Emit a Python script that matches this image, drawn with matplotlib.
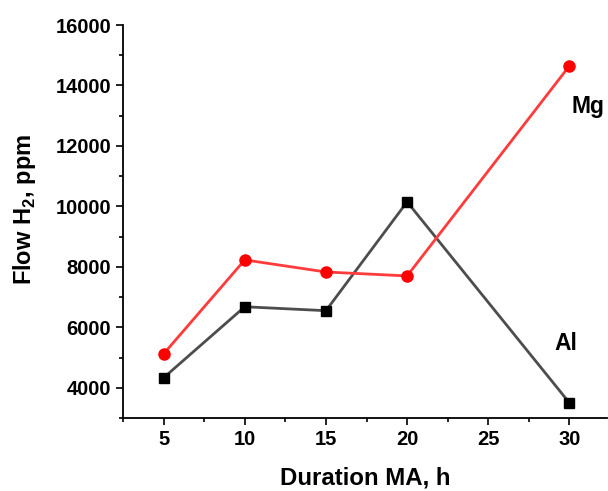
import matplotlib.pyplot as plt
from matplotlib.ticker import MultipleLocator

# Podaci ocitani sa grafika
duration = [5, 10, 15, 20, 30]
flow_mg = [5120, 8230, 7830, 7700, 14650]
flow_al = [4330, 6680, 6550, 10150, 3500]

plt.rcParams['font.family'] = ['Liberation Sans', 'DejaVu Sans']
plt.rcParams['font.weight'] = 'bold'
plt.rcParams['mathtext.fontset'] = 'custom'
plt.rcParams['mathtext.bf'] = 'Liberation Sans:bold'
plt.rcParams['mathtext.rm'] = 'Liberation Sans:bold'

fig = plt.figure(figsize=(6.08, 4.91), dpi=100)
ax = fig.add_axes([0.2023, 0.1487, 0.7957, 0.8003])

ax.plot(duration, flow_al, color='#4d4d4d', lw=2, marker='s', ms=7,
        mfc='black', mec='black')
ax.plot(duration, flow_mg, color='#ff3b3b', lw=2, marker='o', ms=8,
        mfc='red', mec='red')

ax.text(30.15, 13080, 'Mg', fontsize=16.5, fontweight='bold')
ax.text(29.05, 5250, 'Al', fontsize=16.5, fontweight='bold')

ax.set_xlim(2.5, 32.3)
ax.set_ylim(3000, 16000)
ax.set_xticks([5, 10, 15, 20, 25, 30])
ax.set_yticks([4000, 6000, 8000, 10000, 12000, 14000, 16000])
ax.xaxis.set_minor_locator(MultipleLocator(2.5))
ax.yaxis.set_minor_locator(MultipleLocator(1000))
ax.tick_params(which='major', direction='out', length=5, width=1.2, labelsize=14.5)
ax.tick_params(which='minor', direction='out', length=3, width=1.2)
for lbl in ax.get_xticklabels() + ax.get_yticklabels():
    lbl.set_fontweight('bold')

ax.spines['top'].set_visible(False)
ax.spines['right'].set_visible(False)
ax.spines['left'].set_linewidth(1.3)
ax.spines['bottom'].set_linewidth(1.3)

ax.set_xlabel('Duration MA, h', fontsize=17.3, fontweight='bold', labelpad=13)
ax.set_ylabel('Flow H$_\\mathrm{2}$, ppm', fontsize=17, fontweight='bold')
ax.yaxis.set_label_coords(-0.176, 0.532)

fig.savefig('out.png', dpi=100)
